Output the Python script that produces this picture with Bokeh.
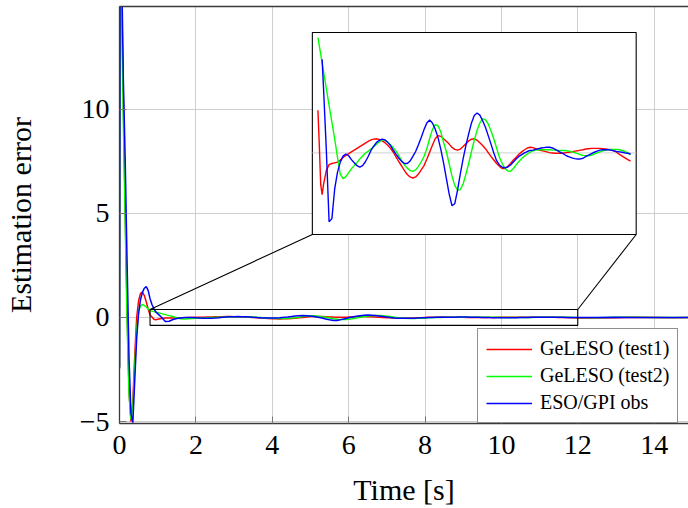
from bokeh.plotting import figure
from bokeh.models import Range1d, FixedTicker, Legend, LegendItem, LinearAxis
from bokeh.embed import file_html
from bokeh.resources import INLINE

FONT = "Liberation Serif"

# ---------------- data ----------------
t_early = [0.0, 0.02, 0.05, 0.1, 0.15, 0.2, 0.25, 0.3, 0.35, 0.4, 0.45, 0.5,
           0.55, 0.6, 0.65, 0.7, 0.75, 0.8, 0.85, 0.9, 0.95]
t_mid = [round(1.0 + 0.1 * i, 1) for i in range(111)]
t_late = [12.5, 13.0, 13.5, 14.0, 14.5, 15.0]
time = t_early + t_mid + t_late

red = [-2.4, 25.0, 16.5, 10.5, 5.0, 0.2, -3.6, -5.0, -4.0, -1.8, 0.0, 0.8,
       1.15, 1.21, 1.05, 0.75, 0.4, 0.121, 0.02, -0.09, -0.118,
       -0.090, -0.050, -0.033, -0.030, -0.028, -0.026, -0.020, -0.013, -0.007, -0.002,
       0.003, 0.008, 0.013, 0.018, 0.023, 0.028, 0.033, 0.037, 0.039, 0.040,
       0.038, 0.034, 0.029, 0.022, 0.013, 0.002, -0.012, -0.025, -0.037, -0.050,
       -0.061, -0.068, -0.071, -0.068, -0.060, -0.048, -0.036, -0.018, 0.002, 0.022,
       0.040, 0.049, 0.047, 0.040, 0.033, 0.025, 0.016, 0.010, 0.008, 0.011,
       0.018, 0.026, 0.034, 0.039, 0.040, 0.036, 0.029, 0.021, 0.012, 0.001,
       -0.010, -0.020, -0.030, -0.038, -0.044, -0.044, -0.038, -0.030, -0.020, -0.012,
       -0.004, 0.003, 0.009, 0.014, 0.016, 0.015, 0.012, 0.009, 0.007, 0.005,
       0.003, 0.001, 0.000, -0.001, -0.001, -0.001, 0.000, 0.001, 0.002, 0.003,
       0.005, 0.006, 0.008, 0.009, 0.011, 0.012, 0.013, 0.013, 0.013, 0.013,
       0.012, 0.011, 0.010, 0.009, 0.006, 0.002, -0.004, -0.009, -0.014, -0.019,
       -0.023,
       -0.03, -0.01, 0.01, 0.0, -0.01, 0.0]

green = [-2.4, 25.0, 15.5, 9.5, 4.5, -0.3, -3.7, -4.9, -4.3, -2.3, -0.6, 0.3,
         0.56, 0.62, 0.58, 0.5, 0.41, 0.327, 0.303, 0.279, 0.255,
         0.231, 0.183, 0.135, 0.087, 0.040, -0.012, -0.060, -0.073, -0.067, -0.056,
         -0.045, -0.036, -0.027, -0.017, -0.009, -0.001, 0.005, 0.011, 0.018, 0.025,
         0.032, 0.037, 0.036, 0.030, 0.023, 0.015, 0.005, -0.008, -0.022, -0.034,
         -0.043, -0.050, -0.052, -0.048, -0.038, -0.025, -0.010, 0.012, 0.040, 0.066,
         0.080, 0.077, 0.060, 0.030, 0.004, -0.030, -0.065, -0.092, -0.105, -0.104,
         -0.088, -0.060, -0.030, 0.004, 0.036, 0.064, 0.085, 0.097, 0.094, 0.082,
         0.062, 0.040, 0.014, -0.012, -0.030, -0.044, -0.051, -0.052, -0.044, -0.034,
         -0.024, -0.016, -0.009, -0.003, 0.002, 0.006, 0.008, 0.009, 0.009, 0.009,
         0.009, 0.009, 0.008, 0.008, 0.007, 0.007, 0.007, 0.006, 0.005, 0.003,
         0.001, -0.002, -0.005, -0.007, -0.008, -0.008, -0.006, -0.003, 0.000, 0.003,
         0.006, 0.008, 0.009, 0.010, 0.010, 0.010, 0.009, 0.007, 0.004, 0.000,
         -0.005,
         -0.01, 0.005, 0.01, 0.0, 0.0, 0.0]

blue = [-2.45, 25.0, 17.5, 11.5, 7.5, 2.5, -2.0, -4.6, -5.05, -3.0, -1.0, 0.2,
        0.85, 1.2, 1.4, 1.48, 1.3, 0.9, 0.62, 0.42, 0.265,
        0.184, 0.010, -0.195, -0.186, -0.102, -0.055, -0.026, -0.009, -0.003, -0.008,
        -0.019, -0.028, -0.036, -0.040, -0.036, -0.025, -0.010, 0.007, 0.019, 0.030,
        0.036, 0.039, 0.037, 0.030, 0.021, 0.008, -0.004, -0.015, -0.024, -0.030,
        -0.030, -0.023, -0.010, 0.004, 0.023, 0.044, 0.066, 0.085, 0.093, 0.085,
        0.068, 0.044, 0.011, -0.028, -0.072, -0.116, -0.149, -0.144, -0.106, -0.059,
        -0.017, 0.021, 0.054, 0.085, 0.106, 0.113, 0.107, 0.091, 0.073, 0.049,
        0.025, 0.000, -0.022, -0.034, -0.040, -0.042, -0.040, -0.034, -0.026, -0.017,
        -0.010, -0.005, 0.000, 0.004, 0.007, 0.008, 0.010, 0.012, 0.014, 0.015,
        0.016, 0.016, 0.014, 0.010, 0.006, 0.001, -0.003, -0.008, -0.011, -0.014,
        -0.016, -0.017, -0.017, -0.015, -0.010, -0.006, -0.002, 0.002, 0.005, 0.008,
        0.009, 0.009, 0.009, 0.008, 0.006, 0.004, 0.003, 0.002, 0.000, -0.001,
        -0.003,
        0.0, 0.01, 0.0, -0.005, 0.0, 0.0]

labels = ["GeLESO (test1)", "GeLESO (test2)", "ESO/GPI obs"]
colors = ["#ff0000", "#00ff00", "#0000ff"]
series = [red, green, blue]

x_ticks = [0, 2, 4, 6, 8, 10, 12, 14]
y_ticks = [-5, 0, 5, 10]

# ---------------- layout constants ----------------
XR = (0.0, 14.9)
YR = (-5.09, 14.92)
ZOOM_T = (0.8, 12.0)          # data window shown in inset (time)
ZOOM_Y = (-0.38, 0.38)        # marked rectangle in main axes
INSET_X = (0.6, 12.2)         # inset axis limits
INSET_Y = (-0.231, 0.341)
BOX_X = (5.05, 13.53)         # inset box in main-axis coordinates
BOX_Y = (3.98, 13.67)

AXIS_COLOR = "#3a3a3a"
GRID_COLOR = "#cfcfcf"

p = figure(width=688, height=508, x_range=Range1d(*XR), y_range=Range1d(*YR),
           output_backend="svg", toolbar_location=None,
           min_border_left=118, min_border_right=0, min_border_top=6,
           min_border_bottom=85)
p.outline_line_color = None
p.background_fill_color = "white"
p.border_fill_color = "white"

# inset ranges: linear map so that INSET_* fill BOX_* inside main frame
kx = (BOX_X[1] - BOX_X[0]) / (INSET_X[1] - INSET_X[0])
ky = (BOX_Y[1] - BOX_Y[0]) / (INSET_Y[1] - INSET_Y[0])
p.extra_x_ranges = {"ix": Range1d(INSET_X[0] - (BOX_X[0] - XR[0]) / kx,
                                  INSET_X[0] + (XR[1] - BOX_X[0]) / kx)}
p.extra_y_ranges = {"iy": Range1d(INSET_Y[0] - (BOX_Y[0] - YR[0]) / ky,
                                  INSET_Y[0] + (YR[1] - BOX_Y[0]) / ky)}

# axes
for ax, ticks in ((p.xaxis[0], x_ticks), (p.yaxis[0], y_ticks)):
    ax.ticker = FixedTicker(ticks=ticks)
    ax.minor_tick_line_color = None
    ax.major_tick_in = 7
    ax.major_tick_out = 0
    ax.major_tick_line_color = "#777777"
    ax.axis_line_color = AXIS_COLOR
    ax.axis_line_width = 1.3
    ax.major_label_text_font = FONT
    ax.major_label_text_font_size = "28px"
    ax.major_label_text_color = "black"
    ax.axis_label_text_font = FONT
    ax.axis_label_text_font_size = "30px"
    ax.axis_label_text_font_style = "normal"
    ax.axis_label_text_color = "black"

p.xaxis[0].axis_label = "Time [s]"
p.xaxis[0].major_label_standoff = 12
p.xaxis[0].axis_label_standoff = 16
p.yaxis[0].axis_label = "Estimation error"
p.yaxis[0].major_label_standoff = 10
p.yaxis[0].axis_label_standoff = 40
p.yaxis[0].major_label_overrides = {-5: "\u22125"}

# top frame line: an axis with no ticks and no labels
top = LinearAxis(ticker=FixedTicker(ticks=[]), major_tick_in=0, major_tick_out=0,
                 minor_tick_line_color=None, major_label_standoff=0,
                 axis_line_color=AXIS_COLOR, axis_line_width=1.3)
p.add_layout(top, "above")

p.xgrid.ticker = FixedTicker(ticks=x_ticks)
p.ygrid.ticker = FixedTicker(ticks=y_ticks)
p.grid.grid_line_color = GRID_COLOR
p.grid.grid_line_width = 1

# main curves
renderers = []
for ys, c in zip(series, colors):
    renderers.append(p.line(time, ys, line_color=c, line_width=1.5))

# zoom rectangle and connectors
p.quad(left=[ZOOM_T[0]], right=[ZOOM_T[1]], bottom=[ZOOM_Y[0]], top=[ZOOM_Y[1]],
       fill_color=None, line_color="black", line_width=1.1)
p.segment(x0=[ZOOM_T[0], ZOOM_T[1]], y0=[ZOOM_Y[1], ZOOM_Y[1]],
          x1=[BOX_X[0], BOX_X[1]], y1=[BOX_Y[0], BOX_Y[0]],
          line_color="black", line_width=1.1)

# inset box
p.quad(left=[INSET_X[0]], right=[INSET_X[1]], bottom=[INSET_Y[0]], top=[INSET_Y[1]],
       x_range_name="ix", y_range_name="iy",
       fill_color="white", line_color="black", line_width=1.1)
p.line(list(INSET_X), [0, 0], x_range_name="ix", y_range_name="iy",
       line_color=GRID_COLOR, line_width=1)

for ys, c in zip(series, colors):
    xs_in, ys_in = [], []
    for tt, yy in zip(time, ys):
        if ZOOM_T[0] <= tt <= ZOOM_T[1] and INSET_Y[0] <= yy <= INSET_Y[1]:
            xs_in.append(tt)
            ys_in.append(yy)
    p.line(xs_in, ys_in, x_range_name="ix", y_range_name="iy",
           line_color=c, line_width=1.4)

legend = Legend(items=[LegendItem(label=l, renderers=[r]) for l, r in zip(labels, renderers)],
                location=(358, 0))
legend.label_text_font = FONT
legend.label_text_font_size = "20px"
legend.label_text_color = "black"
legend.glyph_width = 46
legend.glyph_height = 20
legend.label_height = 20
legend.label_standoff = 8
legend.spacing = 4
legend.padding = 8
legend.margin = 0
legend.border_line_color = "#222222"
legend.border_line_width = 1.1
legend.background_fill_color = "white"
legend.background_fill_alpha = 1.0
p.add_layout(legend)

open("out.html", "w").write(file_html(p, INLINE))
